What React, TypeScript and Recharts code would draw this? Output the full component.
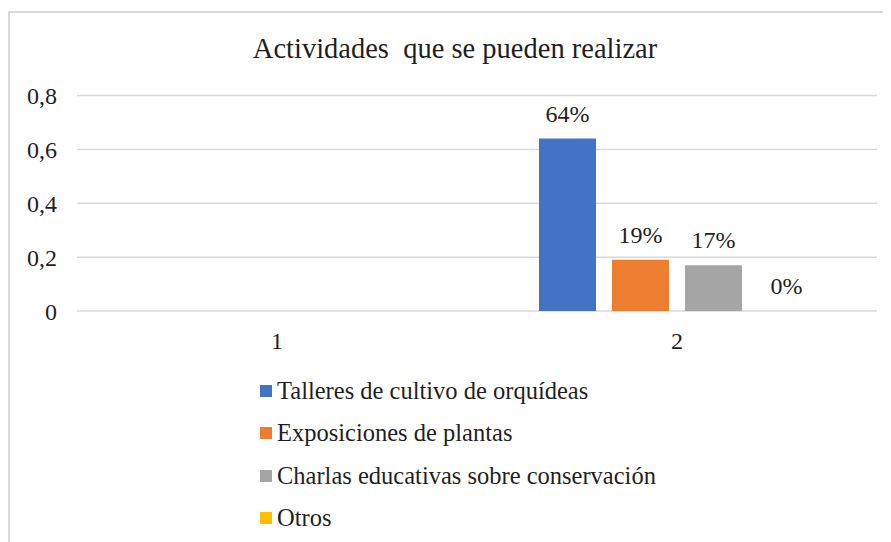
import React from "react";
import { BarChart, Bar, XAxis, YAxis, CartesianGrid, Legend, LabelList } from "recharts";

const categories = ["1", "2"];
const talleres: (number | null)[] = [null, 0.64];
const exposiciones: (number | null)[] = [null, 0.19];
const charlas: (number | null)[] = [null, 0.17];
const otros: (number | null)[] = [null, 0];
const yTicks = [0, 0.2, 0.4, 0.6, 0.8];

const seriesNames = [
  "Talleres de cultivo de orquídeas",
  "Exposiciones de plantas",
  "Charlas educativas sobre conservación",
  "Otros",
];
const seriesKeys = ["talleres", "exposiciones", "charlas", "otros"];
const colors = ["#4472C4", "#ED7D31", "#A5A5A5", "#FFC000"];

const data = categories.map((c, i) => ({
  cat: c,
  talleres: talleres[i],
  exposiciones: exposiciones[i],
  charlas: charlas[i],
  otros: otros[i],
}));

const FONT = '"Liberation Serif", "Times New Roman", Times, serif';
const TEXT = "#1f1f1f";

const fmtTick = (v: number) => String(v).replace(".", ",");
const fmtPct = (v: any) => (v === null || v === undefined ? "" : `${Math.round(Number(v) * 100)}%`);

const LegendContent = (props: any) => {
  const payload = [...(props.payload || [])].sort(
    (a: any, b: any) => seriesNames.indexOf(a.value) - seriesNames.indexOf(b.value)
  );
  return (
    <div style={{ fontFamily: FONT, fontSize: 24.5, color: TEXT }}>
      {payload.map((p: any, i: number) => (
        <div key={i} style={{ display: "flex", alignItems: "center", height: 42.5, whiteSpace: "nowrap" }}>
          <span style={{ display: "inline-block", width: 12, height: 12, background: p.color, marginRight: 5 }} />
          <span>{p.value}</span>
        </div>
      ))}
    </div>
  );
};

export default function App() {
  return (
    <div
      style={{
        position: "relative",
        width: 881,
        height: 529,
        marginTop: 3,
        borderLeft: "2px solid #d9d9d9",
        borderTop: "2px solid #d9d9d9",
        background: "#fff",
      }}
    >
      <div
        style={{
          position: "absolute",
          left: 445,
          top: 21.5,
          transform: "translateX(-50%)",
          fontFamily: FONT,
          fontSize: 28.5,
          lineHeight: "28.5px",
          color: TEXT,
          whiteSpace: "pre",
        }}
      >
        {"Actividades  que se pueden realizar"}
      </div>
      <BarChart
        width={881}
        height={529}
        data={data}
        margin={{ top: 82.5, right: 14, left: 0, bottom: 21 }}
        barSize={57}
        barGap={16}
      >
        <CartesianGrid vertical={false} stroke="#d9d9d9" strokeWidth={1.5} />
        <XAxis
          dataKey="cat"
          axisLine={false}
          tickLine={false}
          tickSize={0}
          tickMargin={21}
          height={40}
          tick={{ fontFamily: FONT, fontSize: 24, fill: TEXT }}
        />
        <YAxis
          domain={[0, 0.8]}
          ticks={yTicks}
          tickFormatter={fmtTick}
          axisLine={false}
          tickLine={false}
          tickSize={0}
          tickMargin={20}
          width={67}
          tick={{ fontFamily: FONT, fontSize: 24, fill: TEXT }}
        />
        <Legend
          layout="vertical"
          align="center"
          verticalAlign="bottom"
          content={<LegendContent />}
          wrapperStyle={{ left: 250, top: 356.5, width: 450, height: 170 }}
        />
        {seriesKeys.map((k, i) => (
          <Bar
            key={k}
            dataKey={k}
            name={seriesNames[i]}
            fill={colors[i]}
            minPointSize={0.01}
            isAnimationActive={false}
          >
            <LabelList
              dataKey={k}
              position="top"
              offset={17}
              formatter={fmtPct}
              style={{ fontFamily: FONT, fontSize: 24, fill: TEXT }}
            />
          </Bar>
        ))}
      </BarChart>
    </div>
  );
}
